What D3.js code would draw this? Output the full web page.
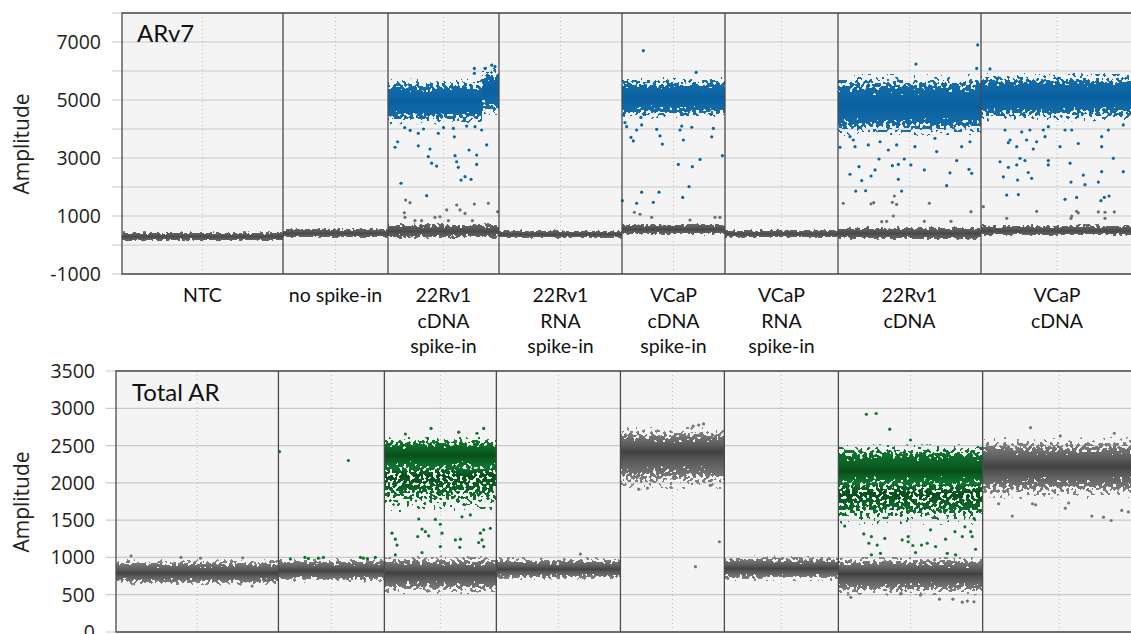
<!DOCTYPE html>
<html>
<head>
<meta charset="utf-8">
<script src="https://cdn.jsdelivr.net/npm/d3@7"></script>
<style>
body { margin: 0; background: #fff; }
</style>
</head>
<body>
<svg id="fig" width="1131" height="634"></svg>
<script>
var wellLabels = [['NTC'], ['no spike-in'], ['22Rv1', 'cDNA', 'spike-in'], ['22Rv1', 'RNA', 'spike-in'],
                  ['VCaP', 'cDNA', 'spike-in'], ['VCaP', 'RNA', 'spike-in'], ['22Rv1', 'cDNA'], ['VCaP', 'cDNA']]
var eventCounts = [16100, 10500, 11100, 12300, 10300, 11300, 14300, 15200]

var arv7Ticks = [-1000, 0, 1000, 2000, 3000, 4000, 5000, 6000, 7000, 8000]
var arv7TickLabels = [-1000, 1000, 3000, 5000, 7000]
var totalTicks = [0, 500, 1000, 1500, 2000, 2500, 3000, 3500]

// droplet clouds: well, from, to (fraction of the well's events), low, centre, high amplitude, class, density
var arv7Clouds = [
    [0, 0, 1, 120, 290, 470, 'neg', 1],
    [1, 0, 1, 230, 400, 600, 'neg', 1],
    [2, 0, 1, 200, 470, 780, 'neg', 1],
    [3, 0, 1, 220, 360, 540, 'neg', 1],
    [4, 0, 1, 320, 540, 760, 'neg', 1],
    [5, 0, 1, 230, 380, 560, 'neg', 1],
    [6, 0, 1, 150, 400, 650, 'neg', 1],
    [7, 0, 1, 300, 480, 720, 'neg', 1],
    [2, 0, 0.85, 4150, 4950, 5750, 'pos', 1],
    [2, 0.85, 1, 4450, 5350, 6150, 'pos', 1],
    [4, 0, 1, 4350, 5080, 5800, 'pos', 1],
    [6, 0, 1, 3750, 4800, 5900, 'pos', 1],
    [7, 0, 1, 4250, 5100, 5950, 'pos', 1]
]
var totalClouds = [
    [0, 0, 1, 620, 790, 980, 'neg', 1],
    [1, 0, 1, 660, 820, 1000, 'neg', 1],
    [2, 0, 1, 500, 790, 1030, 'neg', 1],
    [3, 0, 1, 690, 840, 1010, 'neg', 1],
    [4, 0, 1, 1900, 2420, 2750, 'neg', 1],
    [5, 0, 1, 680, 850, 1030, 'neg', 1],
    [6, 0, 1, 480, 780, 1020, 'neg', 1],
    [7, 0, 1, 1780, 2220, 2620, 'neg', 1],
    [2, 0, 1, 1600, 2100, 2300, 'pos', 0.65],
    [2, 0, 1, 2150, 2370, 2620, 'pos', 1],
    [6, 0, 1, 1430, 1850, 2100, 'pos', 0.65],
    [6, 0, 1, 1950, 2150, 2520, 'pos', 1]
]

// single droplets away from the clouds: well, fraction of the well, amplitude
var arv7Pos = [
    [2,0.087,3560],[2,0.063,3370],[2,0.117,2130],[2,0.273,3420],[2,0.273,3850],[2,0.363,3050],[2,0.378,3310],
    [2,0.393,2820],[2,0.438,2720],[2,0.348,1700],[2,0.453,3850],[2,0.604,3080],[2,0.619,2870],[2,0.634,2680],
    [2,0.658,2240],[2,0.694,2355],[2,0.748,2265],[2,0.730,3275],[2,0.799,3100],[2,0.799,2780],[2,0.889,3450],
    [2,0.598,3730],[2,0.844,3965],[2,0.784,4080],[2,0.709,4100],[2,0.589,4020],[2,0.15,4050],[2,0.2,3950],
    [2,0.32,4000],[2,0.5,4050],[2,0.778,6090],[2,0.874,6090],[2,0.934,6200],[2,0.964,6150],[2,0.778,5920],
    [4,0.207,6700],[4,0.029,4220],[4,0.013,4480],[4,0.045,4080],[4,0.087,3710],[4,0.110,3590],[4,0.142,3965],
    [4,0.191,4140],[4,0.184,4400],[4,0.337,3990],[4,0.369,3760],[4,0.392,3480],[4,0.563,3965],[4,0.580,4100],
    [4,0.596,3620],[4,0.677,4060],[4,0.547,2780],[4,0.683,2700],[4,0.758,2950],[4,0.887,4020],[4,0.871,3730],
    [4,0.975,3080],[4,0.651,2010],[4,0.589,1640],[4,0.191,1820],[4,0.304,1470],[4,0.359,1820],[4,0.142,1440],
    [4,0.003,1530],[4,0.72,5950],
    [6,0.977,6900],[6,0.545,6240],[6,0.970,6090],[6,0.014,3370],[6,0.084,3735],[6,0.107,3620],[6,0.119,3390],
    [6,0.212,3450],[6,0.294,3560],[6,0.352,3275],[6,0.410,3450],[6,0.538,3390],[6,0.678,3680],[6,0.690,3220],
    [6,0.865,3390],[6,0.923,3560],[6,0.287,2965],[6,0.464,2965],[6,0.147,2700],[6,0.084,2440],[6,0.231,2380],
    [6,0.259,2590],[6,0.380,2735],[6,0.422,2780],[6,0.510,2760],[6,0.604,2590],[6,0.783,2490],[6,0.830,2910],
    [6,0.916,2610],[6,0.935,2470],[6,0.422,2265],[6,0.760,2046],[6,0.124,1860],[6,0.166,2220],[6,0.193,1870],
    [6,0.445,1860],
    [7,0.059,6070],[7,0.180,3530],[7,0.191,3620],[7,0.235,3390],[7,0.158,3965],[7,0.268,3900],[7,0.300,3620],
    [7,0.344,3310],[7,0.366,3560],[7,0.322,3965],[7,0.410,3965],[7,0.421,3735],[7,0.443,4080],[7,0.520,3390],
    [7,0.553,3965],[7,0.597,3965],[7,0.640,3500],[7,0.794,3735],[7,0.794,3390],[7,0.838,3965],[7,0.936,4140],
    [7,0.125,2870],[7,0.180,2680],[7,0.235,2760],[7,0.257,2990],[7,0.289,2910],[7,0.311,2500],[7,0.333,2300],
    [7,0.443,2910],[7,0.443,2760],[7,0.147,2350],[7,0.241,2240],[7,0.586,2820],[7,0.592,2170],[7,0.673,2410],
    [7,0.684,2080],[7,0.772,2170],[7,0.794,2530],[7,0.871,2990],[7,0.936,2530],[7,0.169,1720],[7,0.246,1740],
    [7,0.553,1575],[7,0.629,1640],[7,0.789,1530],[7,0.811,1640],[7,0.842,1690]
]
var arv7Neg = [
    [2,0.159,1550],[2,0.198,1460],[2,0.147,1110],[2,0.153,955],[2,0.529,1210],[2,0.619,1380],[2,0.649,1210],
    [2,0.694,1090],[2,0.778,1410],[2,0.904,1440],[2,0.423,955],[2,0.468,975],[2,0.243,840],[2,0.303,840],
    [2,0.544,840],[2,0.988,1150],[2,0.760,840],
    [4,0.120,1130],[4,0.175,1060],[4,0.288,955],[4,0.903,955],[4,0.951,955],[4,0.660,860],
    [6,0.037,1440],[6,0.231,1420],[6,0.250,1460],[6,0.380,1470],[6,0.410,1400],[6,0.639,1440],[6,0.394,1690],
    [6,0.387,1000],[6,0.306,805],[6,0.340,815],[6,0.604,815],[6,0.790,815],[6,0.930,1150],
    [7,0.015,1320],[7,0.169,920],[7,0.366,1160],[7,0.629,1160],[7,0.640,1110],[7,0.597,1000],[7,0.592,920],
    [7,0.772,1140],[7,0.816,1130],[7,0.816,920],[7,0.877,1140]
]
var totalPos = [
    [1,0.01,2420],[1,0.66,2300],[1,0.113,980],[1,0.25,1000],[1,0.283,985],[1,0.377,990],[1,0.425,1000],
    [1,0.774,1000],[1,0.802,990],[1,0.84,985],[1,0.915,1000],
    [2,0.307,1515],[2,0.455,1510],[2,0.500,1445],[2,0.693,1545],[2,0.768,1570],[2,0.068,1325],[2,0.098,1245],
    [2,0.113,1165],[2,0.298,1280],[2,0.336,1380],[2,0.366,1345],[2,0.396,1290],[2,0.515,1325],[2,0.634,1235],
    [2,0.679,1245],[2,0.673,1135],[2,0.857,1325],[2,0.887,1370],[2,0.946,1390],[2,0.842,1200],[2,0.872,1235],
    [2,0.098,1035],[2,0.336,1065],[2,0.500,1145],[2,0.887,1145],[2,0.417,2730],[2,0.188,2655],[2,0.887,2730],
    [2,0.664,2680],[2,0.827,2665],
    [6,0.194,2920],[6,0.262,2930],[6,0.356,2720],[6,0.500,2575],[6,0.044,1420],[6,0.176,1315],[6,0.229,1280],
    [6,0.211,1190],[6,0.269,1165],[6,0.322,1255],[6,0.442,1235],[6,0.484,1280],[6,0.484,1210],[6,0.516,1160],
    [6,0.576,1165],[6,0.616,1190],[6,0.535,1065],[6,0.743,1245],[6,0.808,1345],[6,0.859,1280],[6,0.877,1410],
    [6,0.917,1345],[6,0.928,1280],[6,0.940,1525],[6,0.951,1110],[6,0.755,1055],[6,0.813,1035],[6,0.292,1055],
    [6,0.229,1035],[6,0.639,1370],[6,0.674,1145]
]
var totalNeg = [
    [0,0.093,1020],[0,0.4,1000],[0,0.52,990],[0,0.78,995],[0,0.838,617],
    [3,0.677,1045],
    [4,0.952,1210],[4,0.721,876],[4,0.753,2775],[4,0.80,2790],[4,0.70,2760],[4,0.176,1915],[4,0.26,1930],[4,0.865,1965],
    [6,0.086,465],[6,0.701,440],[6,0.794,440],[6,0.859,400],[6,0.894,415],[6,0.940,405],[6,0.569,495],[6,0.431,510],
    [7,0.312,2740],[7,0.506,2630],[7,0.859,2665],[7,0.193,1555],[7,0.539,1660],[7,0.712,1555],[7,0.788,1540],
    [7,0.838,1495],[7,0.907,1630],[7,0.950,1610],[7,0.104,1720],[7,0.325,1720],[7,0.346,1705],[7,0.561,1730]
]

var starts = eventCounts.map(function(d, i){ return d3.sum(eventCounts.slice(0, i)) })
var totalEvents = d3.sum(eventCounts)

var svg = d3.select('#fig')
var defs = svg.append('defs')

// speckle filter: turns the density of a cloud into scattered droplets
var f = defs.append('filter').attr('id', 'speckle')
    .attr('filterUnits', 'userSpaceOnUse').attr('x', 0).attr('y', 0).attr('width', 1131).attr('height', 634)
    .attr('color-interpolation-filters', 'sRGB')
f.append('feTurbulence').attr('type', 'fractalNoise').attr('baseFrequency', 0.3)
    .attr('numOctaves', 1).attr('seed', 7).attr('result', 'noise')
f.append('feColorMatrix').attr('in', 'noise').attr('type', 'matrix')
    .attr('values', '0 0 0 0 0  0 0 0 0 0  0 0 0 0 0  2.4 0 0 0 -0.7').attr('result', 'thr')
f.append('feComposite').attr('in', 'SourceGraphic').attr('in2', 'thr').attr('operator', 'arithmetic')
    .attr('k1', 0).attr('k2', 1).attr('k3', -1).attr('k4', 0.5).attr('result', 'diff')
f.append('feComponentTransfer').attr('in', 'diff').attr('result', 'mask')
    .append('feFuncA').attr('type', 'discrete').attr('tableValues', '0 1')
f.append('feComposite').attr('in', 'SourceGraphic').attr('in2', 'mask').attr('operator', 'in').attr('result', 'col')
f.append('feComponentTransfer').attr('in', 'col')
    .append('feFuncA').attr('type', 'linear').attr('slope', 30).attr('intercept', 0)

var shades = {
    top: { neg: d3.interpolateRgb('#464646', '#6c6c6c'), pos: d3.interpolateRgb('#085f9f', '#1870ad') },
    bottom: { neg: d3.interpolateRgb('#3c3c3c', '#8c8c8c'), pos: d3.interpolateRgb('#054a17', '#138038') }
}
var dotColors = { top: { neg: '#6f6f6f', pos: '#0b65a6' }, bottom: { neg: '#777777', pos: '#0e7332' } }

function drawPanel(p){
    var x = d3.scaleLinear().domain([0, totalEvents]).range(p.xRange)
    var y = d3.scaleLinear().domain(p.yDomain).range(p.yRange)
    var g = svg.append('g')
    var top = p.yRange[1], bottom = p.yRange[0], left = p.xRange[0]

    g.append('rect')
        .attr('x', left).attr('y', top)
        .attr('width', 1131 - left + 10).attr('height', bottom - top)
        .attr('fill', '#f4f4f4')

    // horizontal grid, running out past the left edge like ticks
    g.selectAll('line.hgrid').data(p.ticks).enter().append('line')
        .attr('class', 'hgrid')
        .attr('x1', left - 10).attr('x2', 1131)
        .attr('y1', function(d){ return y(d) }).attr('y2', function(d){ return y(d) })
        .attr('stroke', '#c9c9c9').attr('stroke-width', 1.2)

    g.selectAll('text.tick').data(p.tickLabels).enter().append('text')
        .attr('class', 'tick')
        .attr('x', p.labelX).attr('y', function(d){ return y(d) + 7 })
        .attr('text-anchor', 'end')
        .style('font-family', 'Open Sans, sans-serif').style('font-size', '19.5px').style('fill', '#222')
        .text(function(d){ return d })

    // dotted line at the middle of each well
    g.selectAll('line.mid').data(eventCounts).enter().append('line')
        .attr('class', 'mid')
        .attr('x1', function(d, i){ return x(starts[i] + d / 2) })
        .attr('x2', function(d, i){ return x(starts[i] + d / 2) })
        .attr('y1', top).attr('y2', bottom)
        .attr('stroke', '#bdbdbd').attr('stroke-width', 1).attr('stroke-dasharray', '1,3')

    var clipId = 'clip' + p.key
    defs.append('clipPath').attr('id', clipId).append('rect')
        .attr('x', left).attr('y', top).attr('width', 1131 - left).attr('height', bottom - top)

    var clouds = g.append('g').attr('clip-path', 'url(#' + clipId + ')')
        .append('g').attr('filter', 'url(#speckle)')
    p.clouds.forEach(function(c, k){
        var w = c[0], yt = y(c[5]), yb = y(c[3]), ym = y(c[4])
        var om = (ym - yt) / (yb - yt)
        var id = 'grad' + p.key + k
        var grad = defs.append('linearGradient').attr('id', id)
            .attr('x1', 0).attr('y1', 0).attr('x2', 0).attr('y2', 1)
        d3.range(0, 21).forEach(function(s){
            var o = s / 20
            var t = o < om ? (om - o) / om : (o - om) / (1 - om)
            var op = c[7] * Math.max(0, Math.min(1, (1 - t) / 0.6))
            grad.append('stop').attr('offset', o)
                .attr('stop-color', shades[p.key][c[6]](Math.pow(t, 0.7)))
                .attr('stop-opacity', op)
        })
        clouds.append('rect')
            .attr('x', x(starts[w] + c[1] * eventCounts[w]))
            .attr('width', x(starts[w] + c[2] * eventCounts[w]) - x(starts[w] + c[1] * eventCounts[w]))
            .attr('y', yt).attr('height', yb - yt)
            .attr('fill', 'url(#' + id + ')')
    })

    var dots = g.append('g').attr('clip-path', 'url(#' + clipId + ')')
    ;[['neg', p.neg], ['pos', p.pos]].forEach(function(set){
        dots.selectAll('circle.' + set[0]).data(set[1]).enter().append('circle')
            .attr('class', set[0])
            .attr('cx', function(d){ return x(starts[d[0]] + d[1] * eventCounts[d[0]]) })
            .attr('cy', function(d){ return y(d[2]) })
            .attr('r', 1.6)
            .attr('fill', dotColors[p.key][set[0]])
    })

    // well dividers
    g.selectAll('line.div').data(starts.slice(1)).enter().append('line')
        .attr('class', 'div')
        .attr('x1', function(d){ return x(d) }).attr('x2', function(d){ return x(d) })
        .attr('y1', top).attr('y2', bottom)
        .attr('stroke', '#4a4a4a').attr('stroke-width', 1.3)

    g.append('path')
        .attr('d', 'M1135,' + top + 'H' + left + 'V' + bottom + 'H1135')
        .attr('fill', 'none').attr('stroke', '#4a4a4a').attr('stroke-width', 1.3)

    g.append('text')
        .attr('x', p.titleX).attr('y', p.titleY)
        .style('font-family', 'Lato, sans-serif').style('font-size', '24px').style('fill', '#111')
        .text(p.title)

    g.append('text')
        .attr('transform', 'translate(29,' + p.ampY + ') rotate(-90)')
        .attr('text-anchor', 'middle')
        .style('font-family', 'Open Sans, sans-serif').style('font-size', '21px').style('fill', '#222')
        .text('Amplitude')
    return x
}

var xTop = drawPanel({ key: 'top', title: 'ARv7', titleX: 137, titleY: 42, ampY: 144,
    xRange: [122, 1133], yDomain: [-1000, 8000], yRange: [274, 13], labelX: 101,
    ticks: arv7Ticks, tickLabels: arv7TickLabels, clouds: arv7Clouds, pos: arv7Pos, neg: arv7Neg })

drawPanel({ key: 'bottom', title: 'Total AR', titleX: 132, titleY: 401, ampY: 502,
    xRange: [116, 1136], yDomain: [0, 3500], yRange: [632, 371], labelX: 95,
    ticks: totalTicks, tickLabels: totalTicks, clouds: totalClouds, pos: totalPos, neg: totalNeg })

// sample names between the panels
var lab = svg.append('g')
wellLabels.forEach(function(lines, i){
    var t = lab.append('text')
        .attr('text-anchor', 'middle')
        .style('font-family', 'Lato, sans-serif').style('font-size', '19.5px').style('fill', '#111')
    lines.forEach(function(s, j){
        t.append('tspan').attr('x', xTop(starts[i] + eventCounts[i] / 2)).attr('y', 302 + j * 25.5).text(s)
    })
})
</script>
</body>
</html>
